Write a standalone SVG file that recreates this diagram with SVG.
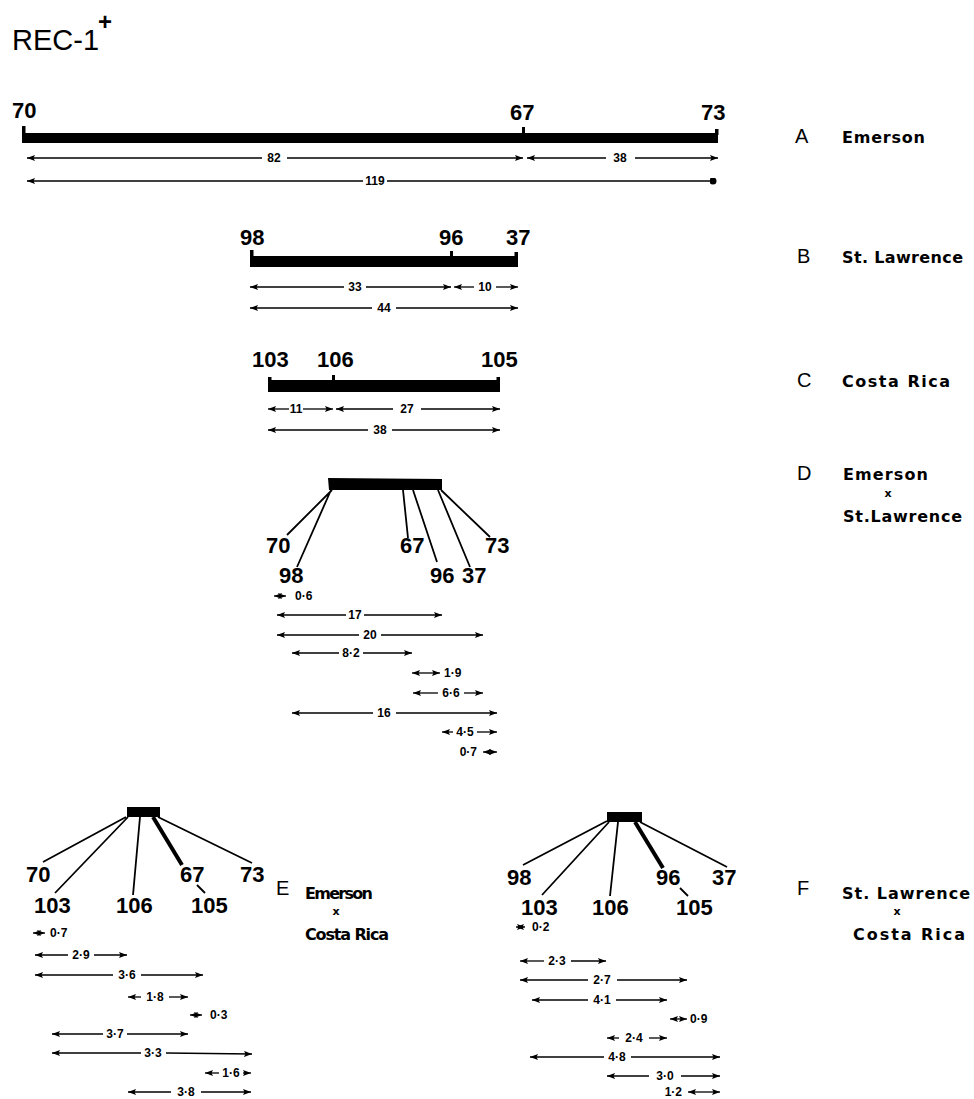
<svg xmlns="http://www.w3.org/2000/svg" width="974" height="1099" viewBox="0 0 974 1099">
<style>
.num{font-family:"Liberation Sans",Arial,sans-serif;font-weight:bold;font-size:22px;fill:#000}
.sm{font-family:"Liberation Sans",Arial,sans-serif;font-weight:bold;font-size:12px;fill:#000}
.smc{font-family:"Liberation Sans",Arial,sans-serif;font-weight:bold;font-size:12px;fill:#000;text-anchor:middle}
.let{font-family:"Liberation Sans",Arial,sans-serif;font-size:20px;fill:#000}
.nm{font-family:"DejaVu Sans",sans-serif;font-weight:bold;font-size:16px;fill:#000}
.x{font-family:"DejaVu Sans",sans-serif;font-weight:bold;font-size:11px;fill:#000;text-anchor:middle}
.ln{stroke:#000;stroke-width:1.3;fill:none}
.l{stroke:#000;stroke-width:1.3;fill:none;marker-start:url(#ah)}
.r{stroke:#000;stroke-width:1.3;fill:none;marker-end:url(#ah)}
.b{stroke:#000;stroke-width:1.3;fill:none;marker-start:url(#ah);marker-end:url(#ah)}
.stem{stroke:#000;stroke-width:1.8;fill:none}
</style>
<defs>
<marker id="ah" viewBox="0 0 8 6" refX="8" refY="3" markerWidth="8" markerHeight="6" markerUnits="userSpaceOnUse" orient="auto-start-reverse">
<path d="M0,0 L8,3 L0,6 L1.5,3 z" fill="#000"/>
</marker>
<marker id="dot" viewBox="0 0 8 8" refX="4" refY="4" markerWidth="7" markerHeight="7" markerUnits="userSpaceOnUse">
<circle cx="4" cy="4" r="4" fill="#000"/>
</marker>
</defs>
<rect width="974" height="1099" fill="#fff"/>

<g id="title">
<text x="12" y="50" font-family="Liberation Sans, Arial, sans-serif" font-size="29" fill="#000">REC-1</text>
<text x="98" y="30" font-family="Liberation Sans, Arial, sans-serif" font-weight="bold" font-size="24" fill="#000">+</text>
</g>

<g id="map-A">
<rect x="22" y="133" width="696" height="10"/>
<rect x="22" y="126" width="3.5" height="17"/>
<rect x="522" y="127" width="3" height="7"/>
<rect x="715" y="129" width="3.5" height="6"/>
<text class="num" x="12" y="118">70</text>
<text class="num" x="510" y="120">67</text>
<text class="num" x="701" y="120">73</text>
</g>
<g id="label-A">
<text class="let" x="795" y="143">A</text>
<text class="nm" x="842" y="143" textLength="83" lengthAdjust="spacing">Emerson</text>
</g>

<g id="map-B">
<rect x="250" y="256" width="268" height="11"/>
<rect x="250" y="250" width="3.5" height="17"/>
<rect x="450" y="251" width="3" height="6"/>
<rect x="514.5" y="252" width="3.5" height="6"/>
<text class="num" x="240" y="245">98</text>
<text class="num" x="439" y="245">96</text>
<text class="num" x="506" y="245">37</text>
</g>
<g id="label-B">
<text class="let" x="797" y="263">B</text>
<text class="nm" x="842" y="263" textLength="121" lengthAdjust="spacing">St. Lawrence</text>
</g>

<g id="map-C">
<rect x="268" y="380" width="232" height="12"/>
<rect x="268" y="377" width="3.5" height="15"/>
<rect x="332" y="375" width="3" height="6"/>
<rect x="496.5" y="377" width="3.5" height="5"/>
<text class="num" x="252" y="367">103</text>
<text class="num" x="317" y="367">106</text>
<text class="num" x="481" y="367">105</text>
</g>
<g id="label-C">
<text class="let" x="797" y="387">C</text>
<text class="nm" x="842" y="387" textLength="108" lengthAdjust="spacing">Costa Rica</text>
</g>

<g id="map-D">
<polygon points="328,478 442,479 442,490 329,490"/>
<text class="num" x="266" y="553">70</text>
<text class="num" x="279" y="583">98</text>
<text class="num" x="400" y="553">67</text>
<text class="num" x="485" y="553">73</text>
<text class="num" x="430" y="583">96</text>
<text class="num" x="462" y="583">37</text>
</g>
<g id="label-D">
<text class="let" x="797" y="480">D</text>
<text class="nm" x="843" y="480" textLength="85" lengthAdjust="spacing">Emerson</text>
<text class="x" x="888" y="497">x</text>
<text class="nm" x="843" y="522" textLength="119" lengthAdjust="spacing">St.Lawrence</text>
</g>

<g id="map-E">
<rect x="127" y="807" width="33" height="10"/>
<text class="num" x="26" y="882">70</text>
<text class="num" x="180" y="882">67</text>
<text class="num" x="240" y="882">73</text>
<text class="num" x="34" y="913">103</text>
<text class="num" x="116" y="913">106</text>
<text class="num" x="191" y="913">105</text>
</g>
<g id="label-E">
<text class="let" x="276" y="895">E</text>
<text class="nm" x="305" y="899" textLength="68" lengthAdjust="spacing">Emerson</text>
<text class="x" x="336" y="915">x</text>
<text class="nm" x="305" y="940" textLength="84" lengthAdjust="spacing">Costa Rica</text>
</g>

<g id="map-F">
<rect x="607" y="812" width="35" height="10"/>
<text class="num" x="507" y="885">98</text>
<text class="num" x="656" y="885">96</text>
<text class="num" x="712" y="885">37</text>
<text class="num" x="521" y="915">103</text>
<text class="num" x="592" y="915">106</text>
<text class="num" x="676" y="915">105</text>
</g>
<g id="label-F">
<text class="let" x="797" y="895">F</text>
<text class="nm" x="842" y="899" textLength="128" lengthAdjust="spacing">St. Lawrence</text>
<text class="x" x="897" y="915">x</text>
<text class="nm" x="853" y="940" textLength="112" lengthAdjust="spacing">Costa Rica</text>
</g>

<g id="connectors">
<path class="stem" d="M332,490 L287,535 M331,490 L297,567 M403,490 L408,538 M413,490 L437,562 M438,490 L470,567 M441,490 L490,537"/>
<path class="stem" d="M126,817 L43,862 M128,817 L55,893 M140,817 L133,895 M158,817 L252,863 M197,885 L205,893"/>
<path stroke="#000" stroke-width="4" fill="none" d="M153,817 L182,865"/>
<path class="stem" d="M607,821 L523,865 M609,822 L542,895 M618,822 L610,896 M640,822 L727,867 M680,888 L688,896"/>
<path stroke="#000" stroke-width="4" fill="none" d="M635,822 L663,868"/>

<line class="l" x1="27" y1="158" x2="262" y2="158"/><text class="smc" x="274" y="162">82</text><line class="r" x1="287" y1="158" x2="523" y2="158"/>
<line class="l" x1="527" y1="158" x2="606" y2="158"/><text class="smc" x="620" y="162">38</text><line class="r" x1="635" y1="158" x2="718" y2="158"/>
<line class="l" x1="27" y1="181" x2="363" y2="181"/><text class="smc" x="375" y="185">119</text><line class="ln" x1="387" y1="181" x2="713" y2="181" marker-end="url(#dot)"/>
<line class="l" x1="250" y1="287" x2="344" y2="287"/><text class="smc" x="355" y="291">33</text><line class="r" x1="366" y1="287" x2="451" y2="287"/>
<line class="l" x1="454" y1="287" x2="474" y2="287"/><text class="smc" x="485" y="291">10</text><line class="r" x1="496" y1="287" x2="518" y2="287"/>
<line class="l" x1="250" y1="308" x2="372" y2="308"/><text class="smc" x="384" y="312">44</text><line class="r" x1="396" y1="308" x2="518" y2="308"/>
<line class="l" x1="268" y1="409" x2="289" y2="409"/><text class="smc" x="296" y="413">11</text><line class="r" x1="303" y1="409" x2="333" y2="409"/>
<line class="l" x1="336" y1="409" x2="393" y2="409"/><text class="smc" x="407" y="413">27</text><line class="r" x1="421" y1="409" x2="500" y2="409"/>
<line class="l" x1="268" y1="430" x2="368" y2="430"/><text class="smc" x="380" y="434">38</text><line class="r" x1="392" y1="430" x2="500" y2="430"/>
<line class="b" x1="274" y1="596" x2="286" y2="596"/><text class="sm" x="295" y="600">0·6</text>
<line class="l" x1="277" y1="615" x2="346" y2="615"/><text class="smc" x="355" y="619">17</text><line class="r" x1="364" y1="615" x2="442" y2="615"/>
<line class="l" x1="277" y1="635" x2="359" y2="635"/><text class="smc" x="370" y="639">20</text><line class="r" x1="381" y1="635" x2="483" y2="635"/>
<line class="l" x1="292" y1="653" x2="339" y2="653"/><text class="smc" x="351" y="657">8·2</text><line class="r" x1="363" y1="653" x2="412" y2="653"/>
<line class="b" x1="412" y1="673" x2="440" y2="673"/><text class="sm" x="444" y="677">1·9</text>
<line class="l" x1="413" y1="693" x2="438" y2="693"/><text class="smc" x="451" y="697">6·6</text><line class="r" x1="464" y1="693" x2="483" y2="693"/>
<line class="l" x1="292" y1="713" x2="373" y2="713"/><text class="smc" x="384" y="717">16</text><line class="r" x1="396" y1="713" x2="497" y2="713"/>
<line class="l" x1="442" y1="732" x2="453" y2="732"/><text class="smc" x="465" y="736">4·5</text><line class="r" x1="477" y1="732" x2="497" y2="732"/>
<text class="sm" x="477" y="756" text-anchor="end">0·7</text><line class="b" x1="483" y1="752" x2="497" y2="752"/>
<line class="b" x1="33" y1="933" x2="45" y2="933"/><text class="sm" x="50" y="937">0·7</text>
<line class="l" x1="35" y1="955" x2="68" y2="955"/><text class="smc" x="81" y="959">2·9</text><line class="r" x1="94" y1="955" x2="127" y2="955"/>
<line class="l" x1="35" y1="975" x2="113" y2="975"/><text class="smc" x="127" y="979">3·6</text><line class="r" x1="141" y1="975" x2="203" y2="975"/>
<line class="l" x1="128" y1="997" x2="141" y2="997"/><text class="smc" x="155" y="1001">1·8</text><line class="r" x1="169" y1="997" x2="188" y2="997"/>
<line class="b" x1="190" y1="1015" x2="202" y2="1015"/><text class="sm" x="210" y="1019">0·3</text>
<line class="l" x1="52" y1="1034" x2="103" y2="1034"/><text class="smc" x="115" y="1038">3·7</text><line class="r" x1="127" y1="1034" x2="188" y2="1034"/>
<line class="l" x1="52" y1="1053" x2="141" y2="1053"/><text class="smc" x="153" y="1057">3·3</text><line class="r" x1="166" y1="1053" x2="252" y2="1054"/>
<line class="l" x1="205" y1="1073" x2="219" y2="1073"/><text class="smc" x="231" y="1077">1·6</text><line class="r" x1="243" y1="1073" x2="251" y2="1073"/>
<line class="l" x1="128" y1="1092" x2="171" y2="1092"/><text class="smc" x="186" y="1096">3·8</text><line class="r" x1="201" y1="1092" x2="251" y2="1092"/>
<line class="b" x1="516" y1="927" x2="525" y2="927"/><text class="sm" x="532" y="931">0·2</text>
<line class="l" x1="520" y1="961" x2="544" y2="961"/><text class="smc" x="557" y="965">2·3</text><line class="r" x1="571" y1="961" x2="606" y2="961"/>
<line class="l" x1="520" y1="980" x2="588" y2="980"/><text class="smc" x="602" y="984">2·7</text><line class="r" x1="617" y1="980" x2="687" y2="980"/>
<line class="l" x1="532" y1="1000" x2="588" y2="1000"/><text class="smc" x="602" y="1004">4·1</text><line class="r" x1="616" y1="1000" x2="667" y2="1000"/>
<line class="b" x1="670" y1="1019" x2="687" y2="1019"/><text class="sm" x="690" y="1023">0·9</text>
<line class="l" x1="607" y1="1038" x2="619" y2="1038"/><text class="smc" x="634" y="1042">2·4</text><line class="r" x1="649" y1="1038" x2="667" y2="1038"/>
<line class="l" x1="530" y1="1057" x2="604" y2="1057"/><text class="smc" x="617" y="1061">4·8</text><line class="r" x1="631" y1="1057" x2="720" y2="1057"/>
<line class="l" x1="607" y1="1076" x2="649" y2="1076"/><text class="smc" x="665" y="1080">3·0</text><line class="r" x1="681" y1="1076" x2="720" y2="1076"/>
<text class="sm" x="682" y="1096" text-anchor="end">1·2</text><line class="b" x1="688" y1="1092" x2="720" y2="1092"/>
</g>
</svg>
